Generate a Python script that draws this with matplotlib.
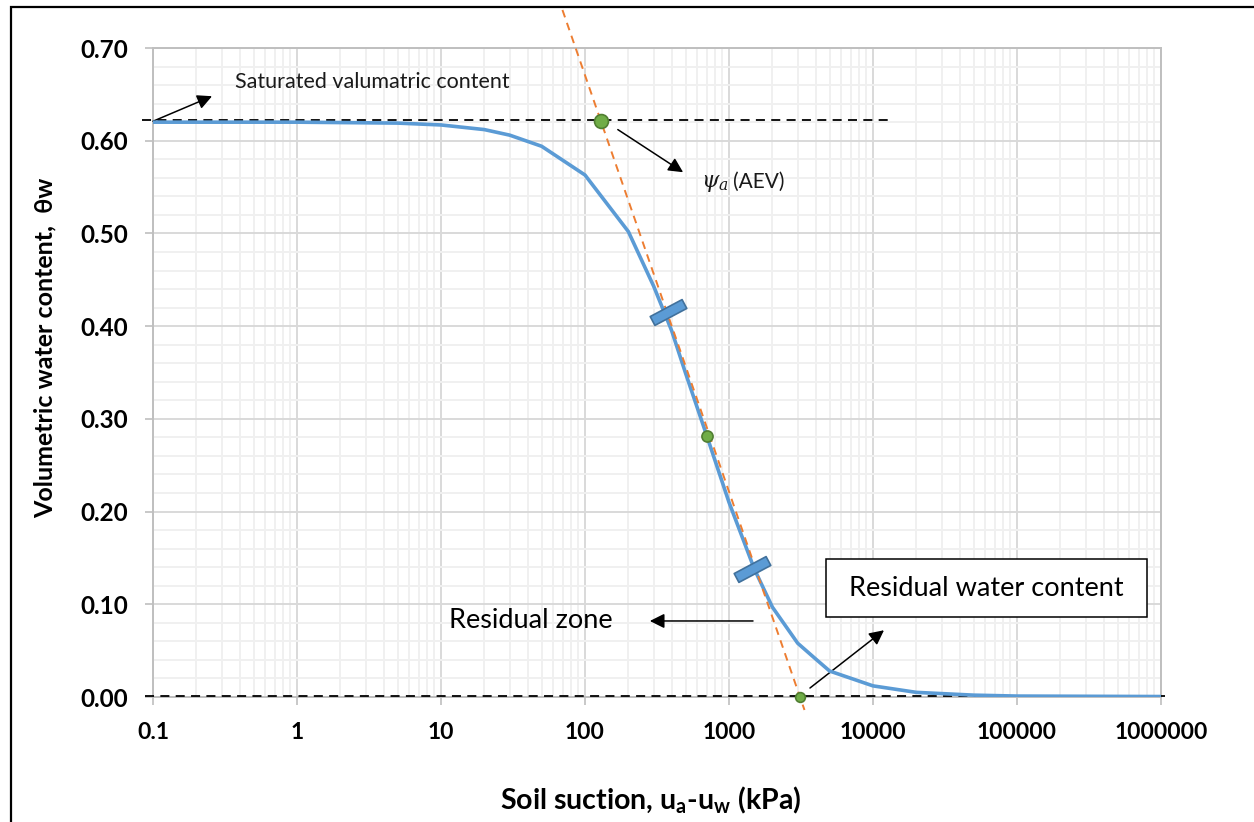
import numpy as np
import matplotlib
matplotlib.use("Agg")
import matplotlib.pyplot as plt
from matplotlib.path import Path
from matplotlib.markers import MarkerStyle
from matplotlib.transforms import Affine2D
import matplotlib.patches as mpatches
from matplotlib.ticker import FixedLocator, LogLocator, NullFormatter, MultipleLocator

# ---------------- data ----------------
suction = [0.1, 1, 5, 10, 20, 30, 50, 100, 200, 300, 400, 500, 700, 1000,
           1500, 2000, 3000, 4000, 5000, 10000, 20000, 50000, 100000, 1000000]
theta = [0.620, 0.620, 0.619, 0.617, 0.612, 0.606, 0.594, 0.563, 0.502, 0.443,
         0.395, 0.349, 0.282, 0.210, 0.138, 0.097, 0.058, 0.041, 0.028, 0.012,
         0.005, 0.002, 0.001, 0.0005]

aev_point = (129, 0.621)          # air entry value
inflection_point = (703, 0.282)
residual_point = (3112, 0.0)
rect_points_x = [377, 1440]
rect_points_y = [0.415, 0.138]

sat_theta = 0.6224
x_ticks = [0.1, 1, 10, 100, 1000, 10000, 100000, 1000000]
x_tick_labels = ["0.1", "1", "10", "100", "1000", "10000", "100000", "1000000"]
y_ticks = [0.0, 0.1, 0.2, 0.3, 0.4, 0.5, 0.6, 0.7]
y_tick_labels = ["0.00", "0.10", "0.20", "0.30", "0.40", "0.50", "0.60", "0.70"]

# ---------------- style ----------------
FONT = ["Lato", "DejaVu Sans"]
plt.rcParams["font.family"] = FONT
plt.rcParams["mathtext.fontset"] = "custom"
plt.rcParams["mathtext.rm"] = "Lato"
plt.rcParams["mathtext.bf"] = "Lato:bold"
plt.rcParams["mathtext.it"] = "DejaVu Serif:italic"

W, H = 1254, 822
fig = plt.figure(figsize=(W / 100, H / 100), dpi=100)
ax = fig.add_axes([153 / W, (H - 697) / H, 1008 / W, 649 / H])

ax.set_xscale("log")
ax.set_xlim(0.1, 1e6)
ax.set_ylim(0, 0.70)

# grid
ax.xaxis.set_major_locator(FixedLocator(x_ticks))
ax.xaxis.set_minor_locator(LogLocator(base=10, subs=np.arange(2, 10)))
ax.xaxis.set_minor_formatter(NullFormatter())
ax.yaxis.set_major_locator(FixedLocator(y_ticks))
ax.yaxis.set_minor_locator(MultipleLocator(0.02))
ax.set_xticklabels(x_tick_labels)
ax.set_yticklabels(y_tick_labels)
ax.grid(which="minor", color="#F0F0F0", lw=1.4, zorder=0)
ax.grid(which="major", color="#D9D9D9", lw=1.4, zorder=0)
ax.set_axisbelow(True)
for s in ax.spines.values():
    s.set_color("#BFBFBF")
    s.set_linewidth(1.4)
ax.tick_params(which="major", length=6, width=1.2, color="#BFBFBF", direction="out")
ax.tick_params(which="minor", length=0)
ax.tick_params(axis="y", pad=12)
ax.tick_params(axis="x", pad=12)
for lab in ax.get_xticklabels():
    lab.set_fontsize(16.5)
    lab.set_fontweight("bold")
    lab.set_family(FONT)
for lab in ax.get_yticklabels():
    lab.set_fontsize(17.5)
    lab.set_fontweight("bold")
    lab.set_family(FONT)

# SWCC curve
ax.plot(suction, theta, color="#5B9BD5", lw=2.6, zorder=4, solid_capstyle="butt")

# tangent line through AEV point and residual point, extended
lx1, ly1 = np.log10(aev_point[0]), aev_point[1]
lx2, ly2 = np.log10(residual_point[0]), residual_point[1]
yy = np.array([0.741, -0.014])
xx = 10 ** (lx1 + (yy - ly1) * (lx2 - lx1) / (ly2 - ly1))
ax.plot(xx, yy, color="#ED7D31", lw=1.4, ls=(0, (4, 3)), zorder=5, clip_on=False)

# horizontal dashed lines
ax.plot([0.084, 13330], [sat_theta, sat_theta], color="black", lw=1.3,
        ls=(0, (5, 3.5)), zorder=3, clip_on=False)
ax.plot([0.088, 1.07e6], [0.001, 0.001], color="black", lw=1.3,
        ls=(0, (5, 3.5)), zorder=3, clip_on=False)

# points
ax.plot(*aev_point, "o", ms=10, color="#70AD47", mec="#507E32", mew=1.2, zorder=7, clip_on=False)
ax.plot(*inflection_point, "o", ms=8, color="#70AD47", mec="#507E32", mew=1.2, zorder=7)
ax.plot(*residual_point, "o", ms=7, color="#70AD47", mec="#507E32", mew=1.2, zorder=7, clip_on=False)

rect_path = Path([(-1.8, -0.5), (1.8, -0.5), (1.8, 0.5), (-1.8, 0.5), (-1.8, -0.5)],
                 [Path.MOVETO, Path.LINETO, Path.LINETO, Path.LINETO, Path.CLOSEPOLY])
rect_marker = MarkerStyle(rect_path, transform=Affine2D().rotate_deg(28))
ax.plot(rect_points_x, rect_points_y, ls="none", marker=rect_marker, ms=26,
        color="#5B9BD5", mec="#41719C", mew=1.2, zorder=6)

# annotations
arrow = dict(arrowstyle="-|>", color="black", lw=1.1, mutation_scale=22, shrinkA=0, shrinkB=0)
ax.annotate("", xy=(0.257, 0.648), xytext=(0.1, 0.621), arrowprops=arrow, annotation_clip=False)
ax.text(0.371, 0.663, "Saturated valumatric content", fontsize=15.5, va="center", ha="left",
        color="#1a1a1a")

ax.annotate("", xy=(480, 0.566), xytext=(169, 0.612), arrowprops=arrow)
ax.text(640, 0.554, r"$\psi_a$", fontsize=16, va="center", ha="left", color="#1a1a1a")
ax.text(1067, 0.556, "(AEV)", fontsize=15, va="center", ha="left", color="#1a1a1a")

ax.annotate("", xy=(282, 0.082), xytext=(1468, 0.082), arrowprops=arrow)
ax.text(11.4, 0.082, "Residual zone", fontsize=19.5, va="center", ha="left", color="black")

ax.annotate("", xy=(11920, 0.072), xytext=(3651, 0.0097), arrowprops=arrow)
box = mpatches.Rectangle(((826 - 153) / 1008, (697 - 617) / 649), (1147 - 826) / 1008, 58 / 649,
                         transform=ax.transAxes, facecolor="white", edgecolor="black",
                         lw=1.1, zorder=8)
ax.add_patch(box)
ax.text(((826 + 1147) / 2 - 153) / 1008, (697 - 588) / 649, "Residual water content",
        transform=ax.transAxes, fontsize=19.5, ha="center", va="center", zorder=9)

# axis labels
fig.text(45 / W, 1 - 348 / H, "Volumetric water content,  θw", rotation=90, fontsize=18,
         fontweight="bold", ha="center", va="center", family=FONT)
fig.text(651 / W, 1 - 800 / H, r"Soil suction, u$_\mathbf{a}$-u$_\mathbf{w}$ (kPa)",
         fontsize=20.5, fontweight="bold", ha="center", va="center", family=FONT)

# outer frame
frame = mpatches.Rectangle((11 / W, -0.05), 1.1, 1 - 7 / H + 0.05, transform=fig.transFigure,
                           fill=False, edgecolor="black", lw=1.6)
fig.patches.append(frame)

fig.savefig("out.png", dpi=100)
